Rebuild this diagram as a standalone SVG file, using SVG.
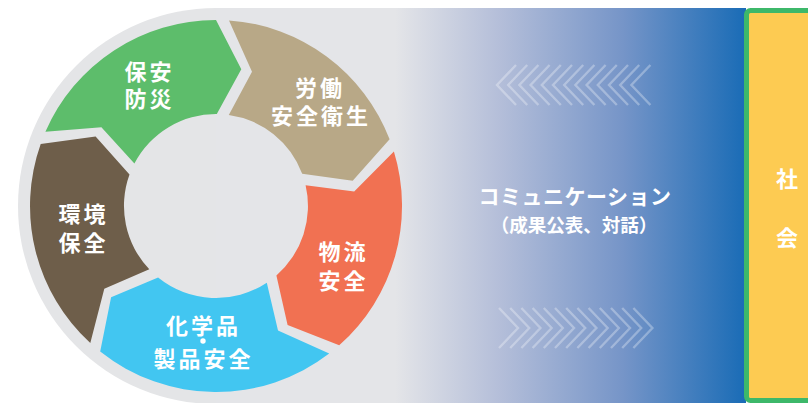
<svg xmlns="http://www.w3.org/2000/svg" xmlns:xlink="http://www.w3.org/1999/xlink" width="808" height="403" viewBox="0 0 808 403">
  <defs>
    <linearGradient id="bandGrad" gradientUnits="userSpaceOnUse" x1="395" y1="0" x2="745" y2="0">
      <stop offset="0" stop-color="#e4e5e8"/>
      <stop offset="0.3" stop-color="#b4bed9"/>
      <stop offset="0.65" stop-color="#7695c8"/>
      <stop offset="1" stop-color="#1a6cb6"/>
    </linearGradient>
    <path id="chevL" d="M19,-20 L0,0 L19,20"/>
    <path id="chevR" d="M0,-20 L19,0 L0,20"/>
  </defs>
  <style>
    .lbl { font-family: "Noto Sans CJK JP", "Noto Sans", sans-serif; font-weight: 700; fill: #ffffff; text-anchor: middle; }
    .seg { font-size: 22px; letter-spacing: 3px; }
    .chev { fill: none; stroke: #ffffff; stroke-opacity: 0.3; stroke-width: 2.4; }
  </style>

  <!-- background band -->
  <g id="background">
    <circle cx="216" cy="206" r="198" fill="#e4e5e7"/>
    <rect x="216" y="8" width="530" height="396" fill="url(#bandGrad)"/>
  </g>

  <!-- cycle segments -->
  <g id="node-hoan">
    <path d="M45.4,131.8 A186,186 0 0 1 216,20 L241.3,69.3 L216.8,114 A92,92 0 0 0 134.4,163.5 L101.4,127.3 Z" fill="#5dbd6b"/>
    <text class="lbl seg"><tspan x="149.5" y="79.5">保安</tspan><tspan x="149.5" y="107">防災</tspan></text>
  </g>
  <g id="node-rodo">
    <path d="M229,20.4 A186,186 0 0 1 389.6,139.3 L352.7,180.7 L302.2,173.8 A92,92 0 0 0 228.8,114.9 L252,71.7 Z" fill="#b8a887"/>
    <text class="lbl seg"><tspan x="320" y="96">労働</tspan><tspan x="321" y="124">安全衛生</tspan></text>
  </g>
  <g id="node-butsuryu">
    <path d="M393.9,151.6 A186,186 0 0 1 339.2,345.3 L287.6,325.1 L276.4,275.4 A92,92 0 0 0 305.6,185.3 L354.2,191.5 Z" fill="#f17152"/>
    <text class="lbl seg"><tspan x="343.5" y="260">物流</tspan><tspan x="343.5" y="289">安全</tspan></text>
  </g>
  <g id="node-kagakuhin">
    <path d="M329.2,353.6 A186,186 0 0 1 100.2,351.6 L111.1,297.2 L158.1,277.5 A92,92 0 0 0 266.8,282.7 L278,330.4 Z" fill="#42c6f1"/>
    <circle cx="203" cy="341" r="2.7" fill="#ffffff"/>
    <text class="lbl seg"><tspan x="203.5" y="334">化学品</tspan><tspan x="203.5" y="367">製品安全</tspan></text>
  </g>
  <g id="node-kankyo">
    <path d="M90.3,343.1 A186,186 0 0 1 40.7,143.9 L95.6,136.5 L129.5,174.5 A92,92 0 0 0 149.3,269.3 L104.3,288.7 Z" fill="#6e5e4a"/>
    <text class="lbl seg"><tspan x="83.5" y="222">環境</tspan><tspan x="83.5" y="251">保全</tspan></text>
  </g>

  <!-- communication arrows -->
  <g id="connectors">
    <g class="chev" transform="translate(497,85)">
      <use xlink:href="#chevL" x="0"/>
      <use xlink:href="#chevL" x="11.2"/>
      <use xlink:href="#chevL" x="22.4"/>
      <use xlink:href="#chevL" x="33.6"/>
      <use xlink:href="#chevL" x="44.8"/>
      <use xlink:href="#chevL" x="56"/>
      <use xlink:href="#chevL" x="67.2"/>
      <use xlink:href="#chevL" x="78.4"/>
      <use xlink:href="#chevL" x="89.6"/>
      <use xlink:href="#chevL" x="100.8"/>
      <use xlink:href="#chevL" x="112"/>
      <use xlink:href="#chevL" x="123.2"/>
      <use xlink:href="#chevL" x="134.4"/>
    </g>
    <g class="chev" transform="translate(499,328)">
      <use xlink:href="#chevR" x="0"/>
      <use xlink:href="#chevR" x="11.2"/>
      <use xlink:href="#chevR" x="22.4"/>
      <use xlink:href="#chevR" x="33.6"/>
      <use xlink:href="#chevR" x="44.8"/>
      <use xlink:href="#chevR" x="56"/>
      <use xlink:href="#chevR" x="67.2"/>
      <use xlink:href="#chevR" x="78.4"/>
      <use xlink:href="#chevR" x="89.6"/>
      <use xlink:href="#chevR" x="100.8"/>
      <use xlink:href="#chevR" x="112"/>
      <use xlink:href="#chevR" x="123.2"/>
      <use xlink:href="#chevR" x="134.4"/>
    </g>
  </g>

  <g id="node-communication">
    <text class="lbl" font-size="21"><tspan x="575" y="204" letter-spacing="0.5">コミュニケーション</tspan><tspan x="574" y="232" font-size="18.5">（成果公表、対話）</tspan></text>
  </g>

  <!-- society box -->
  <g id="node-shakai">
    <rect x="746.5" y="10.5" width="70" height="390" rx="4" fill="#fdcb52" stroke="#3db86a" stroke-width="5"/>
    <text class="lbl" font-size="22"><tspan x="787" y="187">社</tspan><tspan x="787" y="246">会</tspan></text>
  </g>
</svg>
